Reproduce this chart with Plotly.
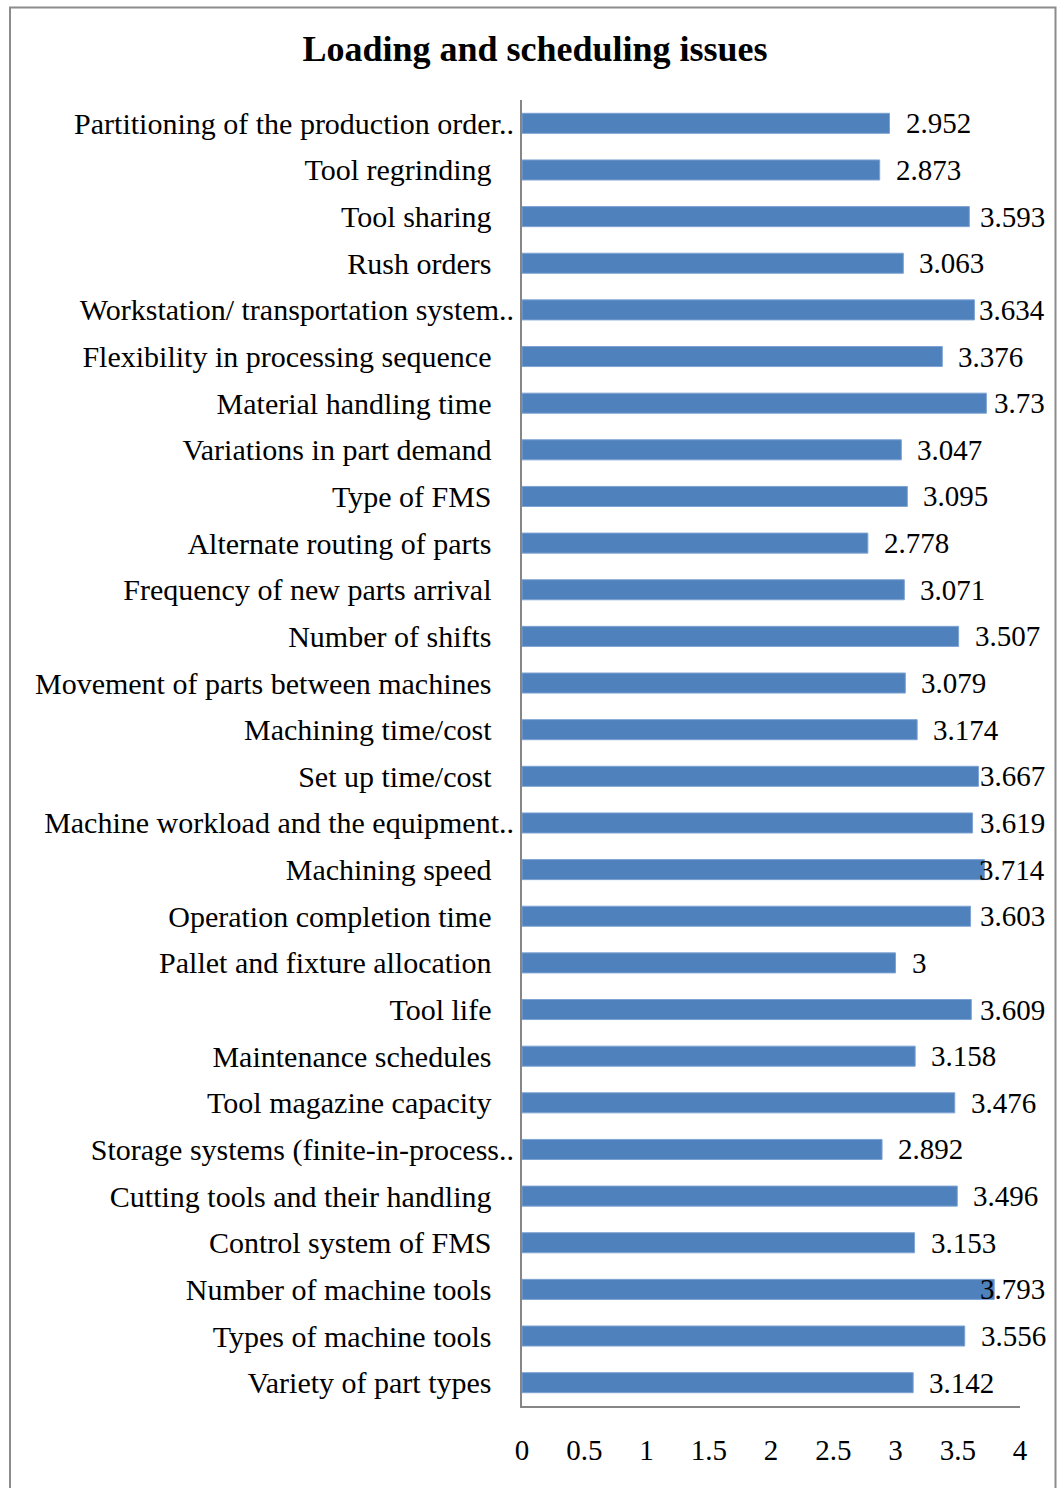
import plotly.graph_objects as go

categories = [
    "Partitioning of the production order..",
    "Tool regrinding",
    "Tool sharing",
    "Rush orders",
    "Workstation/ transportation system..",
    "Flexibility in processing sequence",
    "Material handling time",
    "Variations in part demand",
    "Type of FMS",
    "Alternate routing of parts",
    "Frequency of new parts arrival",
    "Number of shifts",
    "Movement of parts between machines",
    "Machining time/cost",
    "Set up time/cost",
    "Machine workload and the equipment..",
    "Machining speed",
    "Operation completion time",
    "Pallet and fixture allocation",
    "Tool life",
    "Maintenance schedules",
    "Tool magazine capacity",
    "Storage systems (finite-in-process..",
    "Cutting tools and their handling",
    "Control system of FMS",
    "Number of machine tools",
    "Types of machine tools",
    "Variety of part types",
]
values = [2.952, 2.873, 3.593, 3.063, 3.634, 3.376, 3.73, 3.047, 3.095, 2.778,
          3.071, 3.507, 3.079, 3.174, 3.667, 3.619, 3.714, 3.603, 3, 3.609,
          3.158, 3.476, 2.892, 3.496, 3.153, 3.793, 3.556, 3.142]
value_labels = ["2.952", "2.873", "3.593", "3.063", "3.634", "3.376", "3.73", "3.047",
                "3.095", "2.778", "3.071", "3.507", "3.079", "3.174", "3.667", "3.619",
                "3.714", "3.603", "3", "3.609", "3.158", "3.476", "2.892", "3.496",
                "3.153", "3.793", "3.556", "3.142"]
x_ticks = [0, 0.5, 1, 1.5, 2, 2.5, 3, 3.5, 4]
x_tick_labels = ["0", "0.5", "1", "1.5", "2", "2.5", "3", "3.5", "4"]
title_text = "Loading and scheduling issues"

W, H = 1057, 1488
ML, MR, MT, MB = 522, 37, 100, 82
PW, PH = W - ML - MR, H - MT - MB
FONT = "Liberation Serif, Times New Roman, serif"
FS_CAT = 30
FS_VAL = 29

# pad normal labels so that the truncated ".." labels overhang to the right
display_labels = [c if c.endswith("..") else c + "\u00a0\u00a0\u00a0" for c in categories]

fig = go.Figure()
fig.add_trace(go.Bar(
    x=values, y=display_labels, orientation="h",
    marker=dict(color="#4F81BD", line=dict(color="#7EA3D3", width=1)),
    hoverinfo="x+y",
))

px_per_unit = PW / 4.0
right_limit = 1047
for v, lab, cat in zip(values, value_labels, display_labels):
    w = sum(0.25 if ch == "." else 0.5 for ch in lab) * FS_VAL
    end_px = ML + v * px_per_unit
    if end_px + 16 + w > right_limit:
        fig.add_annotation(x=(right_limit - ML) / PW, xref="paper", y=cat, yref="y",
                           text=lab, showarrow=False, xanchor="right", yanchor="middle",
                           font=dict(family=FONT, size=FS_VAL, color="black"))
    else:
        fig.add_annotation(x=v, xref="x", y=cat, yref="y", xshift=14,
                           text=lab, showarrow=False, xanchor="left", yanchor="middle",
                           font=dict(family=FONT, size=FS_VAL, color="black"))

# outer frame
def px_x(p):
    return (p - ML) / PW

def px_y(p):
    return (H - MB - p) / PH

fig.add_shape(type="rect", xref="paper", yref="paper",
              x0=px_x(10), x1=px_x(1055.5), y0=px_y(1500), y1=px_y(7.5),
              line=dict(color="#8C8C8C", width=2), fillcolor="rgba(0,0,0,0)", layer="above")

fig.update_layout(
    width=W, height=H,
    margin=dict(l=ML, r=MR, t=MT, b=MB, autoexpand=False),
    paper_bgcolor="white", plot_bgcolor="white",
    bargap=0.57,
    showlegend=False,
    font=dict(family=FONT, size=FS_CAT, color="black"),
    title=dict(text="<b>" + title_text + "</b>", x=535 / W, xanchor="center",
               y=1 - 48 / H, yanchor="middle", yref="container",
               font=dict(family=FONT, size=36, color="black")),
    xaxis=dict(range=[0, 4], tickvals=x_ticks, ticktext=x_tick_labels,
               showgrid=False, zeroline=False, showline=True, linecolor="#868686",
               linewidth=2, ticks="", ticklabelstandoff=17, automargin=False,
               tickfont=dict(family=FONT, size=FS_VAL, color="black")),
    yaxis=dict(autorange="reversed", type="category", showgrid=False, zeroline=False,
               showline=True, linecolor="#868686", linewidth=2, ticks="",
               ticklabelstandoff=0, automargin=False,
               tickfont=dict(family=FONT, size=FS_CAT, color="black")),
)

fig.write_html("out.html")
